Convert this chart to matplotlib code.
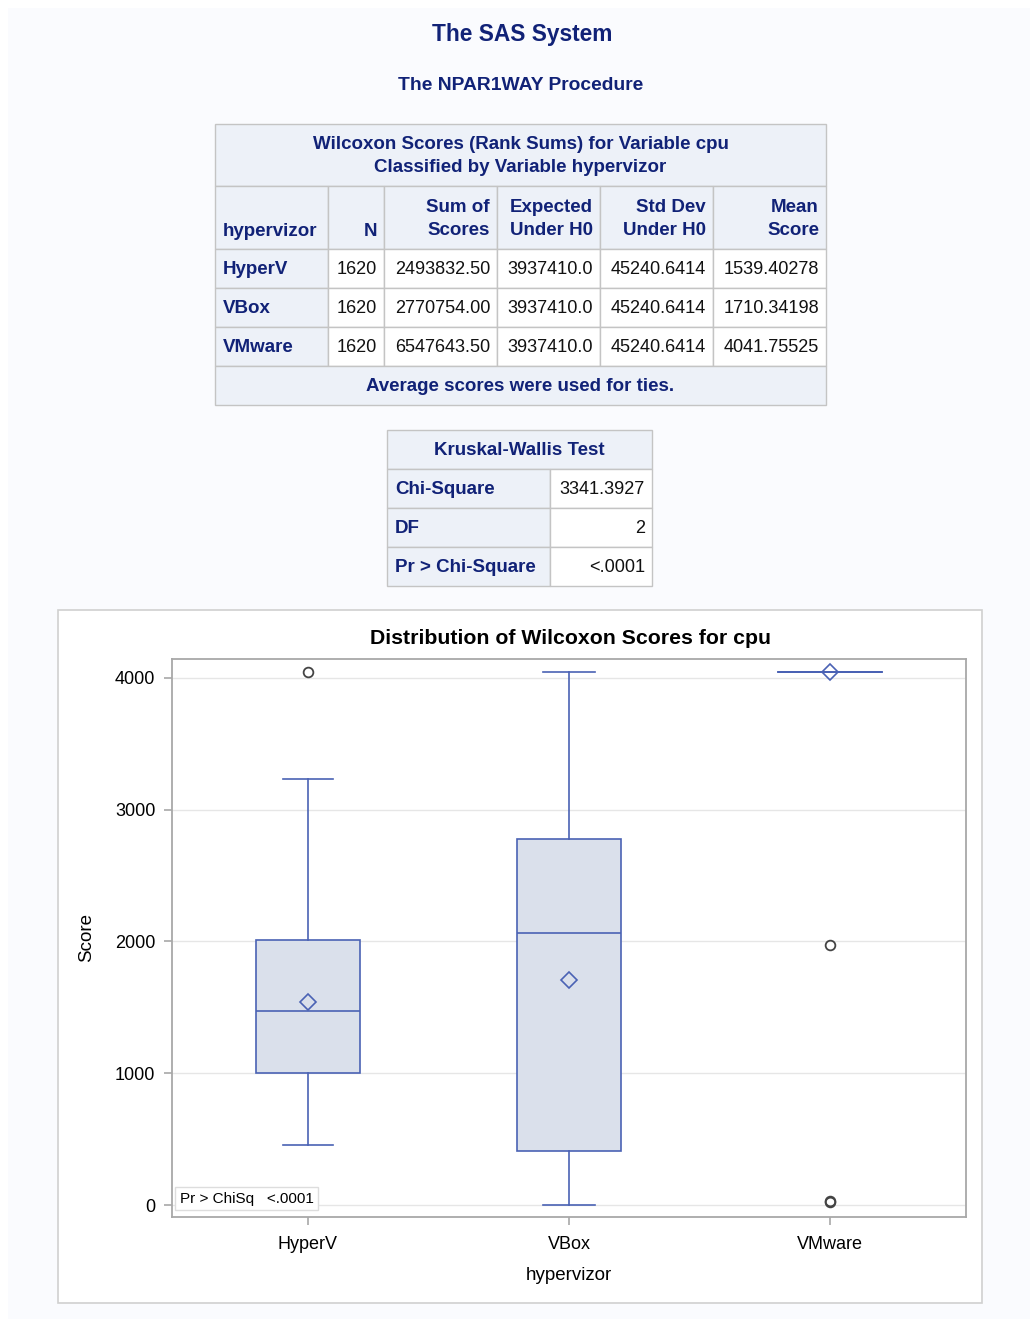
import matplotlib.pyplot as plt
from matplotlib.patches import Rectangle

plt.rcParams['font.family'] = ['Liberation Sans', 'DejaVu Sans']

# ---- data ----
groups = ['HyperV', 'VBox', 'VMware']
n_obs = [1620, 1620, 1620]
sum_scores = [2493832.50, 2770754.00, 6547643.50]
expected = [3937410.0, 3937410.0, 3937410.0]
std_dev = [45240.6414, 45240.6414, 45240.6414]
mean_score = [1539.40278, 1710.34198, 4041.75525]

kw_chisq = 3341.3927
kw_df = 2
kw_p = '<.0001'

# box plot stats
q1 = [1002, 410, 4045]
med = [1472, 2065, 4045]
q3 = [2011, 2778, 4045]
whislo = [455, 0, 4045]
whishi = [3233, 4045, 4045]
fliers = [[4045], [], [1973, 30, 20]]
yticks = [0, 1000, 2000, 3000, 4000]

W, H = 1030, 1319
HDR_BG = '#EDF1F8'
HDR_FG = '#112277'
GRID = '#C4C4C4'
BOX_EDGE = '#4A62B4'
BOX_FILL = '#DAE0EB'
FS = 13.5
FS_DATA = 13.1

fig = plt.figure(figsize=(W / 100, H / 100), dpi=100)
fig.patch.set_facecolor('white')
bg = fig.add_axes([0, 0, 1, 1])
bg.set_xlim(0, W)
bg.set_ylim(H, 0)
bg.axis('off')
bg.add_patch(Rectangle((8, 8), W - 8, H - 8, facecolor='#FAFBFE', edgecolor='none'))

bg.text(522, 34, 'The SAS System', ha='center', va='center', fontsize=16.4,
        fontweight='bold', color=HDR_FG)
bg.text(521, 85, 'The NPAR1WAY Procedure', ha='center', va='center', fontsize=13.9,
        fontweight='bold', color=HDR_FG)


def cell(x0, x1, y0, y1, txt, header, ha='right'):
    bg.add_patch(Rectangle((x0, y0), x1 - x0, y1 - y0,
                           facecolor=HDR_BG if header else 'white',
                           edgecolor=GRID, lw=1))
    if ha == 'right':
        tx = x1 - 7
    elif ha == 'left':
        tx = x0 + 8
    else:
        tx = (x0 + x1) / 2
    bg.text(tx, (y0 + y1) / 2 + 1, txt, ha=ha, va='center',
            fontsize=FS if header else FS_DATA,
            fontweight='bold' if header else 'normal',
            color=HDR_FG if header else '#111111', linespacing=1.45)


# Wilcoxon table
cols = [215, 328, 384, 497, 600, 713, 826]
cell(215, 826, 124, 186, 'Wilcoxon Scores (Rank Sums) for Variable cpu\nClassified by Variable hypervizor',
     True, ha='center')
heads = ['hypervizor', 'N', 'Sum of\nScores', 'Expected\nUnder H0', 'Std Dev\nUnder H0', 'Mean\nScore']
for i, h in enumerate(heads):
    x0, x1 = cols[i], cols[i + 1]
    y0, y1 = 186, 249
    bg.add_patch(Rectangle((x0, y0), x1 - x0, y1 - y0, facecolor=HDR_BG, edgecolor=GRID, lw=1))
    if i == 0:
        bg.text(x0 + 8, 231, h, ha='left', va='center', fontsize=FS, fontweight='bold', color=HDR_FG)
    elif i == 1:
        bg.text(x1 - 7, 231, h, ha='right', va='center', fontsize=FS, fontweight='bold', color=HDR_FG)
    else:
        bg.text(x1 - 7, 219, h, ha='right', va='center', fontsize=FS, fontweight='bold',
                color=HDR_FG, linespacing=1.45, multialignment='right')
rows_y = [249, 288, 327, 366]
for r, g in enumerate(groups):
    y0, y1 = rows_y[r], rows_y[r + 1]
    vals = [str(n_obs[r]), f'{sum_scores[r]:.2f}', f'{expected[r]:.1f}',
            f'{std_dev[r]:.4f}', f'{mean_score[r]:.5f}']
    cell(cols[0], cols[1], y0, y1, g, True, ha='left')
    for c, v in enumerate(vals):
        cell(cols[c + 1], cols[c + 2], y0, y1, v, False)
cell(215, 826, 366, 405, 'Average scores were used for ties.', True, ha='center')

# Kruskal-Wallis table
cell(387, 652, 430, 469, 'Kruskal-Wallis Test', True, ha='center')
kw_rows = [('Chi-Square', f'{kw_chisq:.4f}'), ('DF', str(kw_df)), ('Pr > Chi-Square', kw_p)]
for r, (lab, v) in enumerate(kw_rows):
    y0 = 469 + 39 * r
    cell(387, 550, y0, y0 + 39, lab, True, ha='left')
    cell(550, 652, y0, y0 + 39, v, False)

# plot panel
bg.add_patch(Rectangle((58, 610), 924, 693, facecolor='white', edgecolor='#D0D0D0', lw=1.2))
bg.text(570, 639, 'Distribution of Wilcoxon Scores for cpu', ha='center', va='center',
        fontsize=15.3, fontweight='bold', color='black')

ax = fig.add_axes([172 / W, 1 - 1217 / H, (966 - 172) / W, (1217 - 659) / H])
stats = []
for i in range(3):
    stats.append(dict(q1=q1[i], med=med[i], q3=q3[i], whislo=whislo[i],
                      whishi=whishi[i], fliers=fliers[i], mean=mean_score[i]))
ax.bxp(stats, positions=[1, 2, 3], widths=0.4, patch_artist=True, showmeans=True,
       boxprops=dict(facecolor=BOX_FILL, edgecolor=BOX_EDGE, lw=1.2),
       medianprops=dict(color=BOX_EDGE, lw=1.2),
       whiskerprops=dict(color=BOX_EDGE, lw=1.2),
       capprops=dict(color=BOX_EDGE, lw=1.2),
       capwidths=[0.19, 0.2, 0.4],
       meanprops=dict(marker='D', markerfacecolor='none', markeredgecolor=BOX_EDGE,
                      markersize=8, markeredgewidth=1.2),
       flierprops=dict(marker='o', markerfacecolor='none', markeredgecolor='#444444',
                       markersize=7, markeredgewidth=1.3))
ax.set_xlim(0.48, 3.52)
ax.set_ylim(-91, 4144)
ax.set_yticks(yticks)
ax.set_xticks([1, 2, 3])
ax.set_xticklabels(groups)
ax.yaxis.grid(True, color='#E6E6E6', lw=1)
ax.set_axisbelow(True)
for s in ax.spines.values():
    s.set_color('#A8A8A8')
    s.set_linewidth(1.3)
ax.tick_params(colors='#A8A8A8', labelcolor='black', labelsize=13, length=6, width=1.2)
ax.tick_params(axis='x', pad=8)
ax.tick_params(axis='y', pad=6)
ax.set_ylabel('Score', fontsize=13.5, labelpad=14)
ax.set_xlabel('hypervizor', fontsize=13.5, labelpad=10)
ax.text(0.01, 0.033, 'Pr > ChiSq   <.0001', transform=ax.transAxes, fontsize=11,
        ha='left', va='center',
        bbox=dict(boxstyle='square,pad=0.3', facecolor='white', edgecolor='#DDDDDD', lw=1))

fig.savefig('out.png', dpi=100, facecolor=fig.get_facecolor())
